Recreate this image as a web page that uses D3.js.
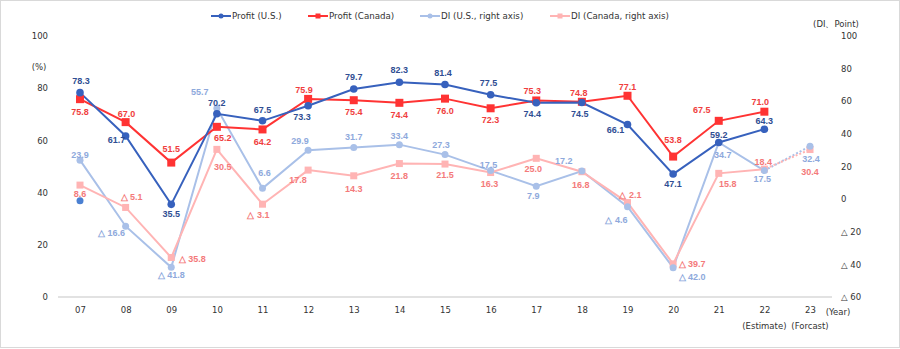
<!DOCTYPE html>
<html>
<head>
<meta charset="utf-8">
<script src="https://cdn.jsdelivr.net/npm/d3@7"></script>
<style>
  body { margin: 0; background: #fff; }
  text { font-family: "DejaVu Sans", Verdana, sans-serif; }
  .val { font-family: "Liberation Sans", Arial, sans-serif; font-weight: bold; font-size: 9px; }
</style>
</head>
<body>
<div id="chart"></div>
<script>
// years on the x axis, 22 = estimate, 23 = forecast
var years = ["07", "08", "09", "10", "11", "12", "13", "14", "15", "16", "17", "18", "19", "20", "21", "22", "23"];

// profit share (%), left axis
var profitUS = [78.3, 61.7, 35.5, 70.2, 67.5, 73.3, 79.7, 82.3, 81.4, 77.5, 74.4, 74.5, 66.1, 47.1, 59.2, 64.3];
var profitCA = [75.8, 67.0, 51.5, 65.2, 64.2, 75.9, 75.4, 74.4, 76.0, 72.3, 75.3, 74.8, 77.1, 53.8, 67.5, 71.0];

// DI points, right axis (last value is the 23 forecast)
var diUS = [23.9, -16.6, -41.8, 55.7, 6.6, 29.9, 31.7, 33.4, 27.3, 17.5, 7.9, 17.2, -4.6, -42.0, 34.7, 17.5, 32.4];
var diCA = [8.6, -5.1, -35.8, 30.5, -3.1, 17.8, 14.3, 21.8, 21.5, 16.3, 25.0, 16.8, -2.1, -39.7, 15.8, 18.4, 30.4];

// lone marker sitting at 07 on the right axis
var loneMarker = [{ year: "07", value: -1.0 }];

var leftTicks = [0, 20, 40, 60, 80, 100];
var rightTicks = [-60, -40, -20, 0, 20, 40, 60, 80, 100];
var legendNames = ["Profit (U.S.)", "Profit (Canada)", "DI (U.S., right axis)", "DI (Canada, right axis)"];

// label nudges [dx, dy] relative to each marker
var posUS = [[1,-12],[-9,4],[0,10],[0,-11],[0,-11],[-6,11],[0,-12],[0,-12],[-2,-12],[-2,-12],[-4,11],[-2,11],[-12,5],[0,10],[0,-8],[0,-8]];
var posCA = [[0,13],[1,-8],[0,-14],[6,11],[0,12],[-4,-9],[0,12],[0,12],[0,12],[0,12],[-4,-10],[-3,-9],[0,-9],[0,-17],[-17,-11],[-4,-10]];
var posDIUS = [[0,-5],[-14,7],[0,8],[-17,-16],[2,-16],[-8,-10],[0,-11],[0,-9],[-4,-10],[-2,-6],[-3,10],[-18,-10],[-11,13],[19,9],[4,12],[-2,8],[1,13]];
var posDICA = [[0,9],[6,-11],[21,1],[6,17],[-4,11],[-10,10],[0,13],[0,12],[0,11],[-1,11],[-3,11],[-1,13],[3,-8],[19,0],[9,10],[-1,-7],[0,22]];

var W = 900, H = 349;
var cUS = "#3761bd", cCA = "#ff3333", cDIUS = "#a9c0e8", cDICA = "#ffb4b4";
var tUS = "#2f4e93", tCA = "#f03e3e", tDIUS = "#8ea9dc", tDICA = "#f47a7a";

var svg = d3.select("#chart").append("svg")
    .attr("width", W)
    .attr("height", H);

svg.append("rect")
    .attr("x", 0.5).attr("y", 0.5)
    .attr("width", W - 1).attr("height", H - 2)
    .attr("fill", "#fff")
    .attr("stroke", "#d9d9d9");

var x = d3.scalePoint().domain(years).range([80, 810]);
var yL = d3.scaleLinear().domain([0, 100]).range([297, 36]);
var yR = d3.scaleLinear().domain([-60, 100]).range([297, 36]);

function fmt(v) {
    return v < 0 ? "\u25B3 " + Math.abs(v).toFixed(1) : v.toFixed(1);
}

// baseline
svg.append("line")
    .attr("x1", 58).attr("x2", 832)
    .attr("y1", yL(0)).attr("y2", yL(0))
    .attr("stroke", "#d9d9d9")
    .attr("stroke-width", 1.5);

// left axis
var axL = svg.append("g")
    .attr("transform", "translate(48,0)")
    .call(d3.axisLeft(yL).tickValues(leftTicks).tickSize(0).tickPadding(0));
axL.select(".domain").remove();
axL.selectAll("text").attr("font-size", "8.5px").attr("fill", "#333").attr("font-family", "DejaVu Sans");

// right axis
var axR = svg.append("g")
    .attr("transform", "translate(841,0)")
    .call(d3.axisRight(yR).tickValues(rightTicks).tickSize(0).tickPadding(0)
        .tickFormat(function (d) { return d < 0 ? "\u25B3 " + Math.abs(d) : d; }));
axR.select(".domain").remove();
axR.selectAll("text").attr("font-size", "8.5px").attr("fill", "#333").attr("font-family", "DejaVu Sans");

// x axis
var axX = svg.append("g")
    .attr("transform", "translate(0," + yL(0) + ")")
    .call(d3.axisBottom(x).tickSize(0).tickPadding(10));
axX.select(".domain").remove();
axX.selectAll("text").attr("font-size", "8.5px").attr("fill", "#333").attr("font-family", "DejaVu Sans");

svg.append("text").attr("x", 39).attr("y", 70).attr("text-anchor", "middle")
    .attr("font-size", "8.5px").attr("fill", "#333").text("(%)");
svg.append("text").attr("x", 836).attr("y", 27).attr("text-anchor", "middle")
    .attr("font-size", "8.5px").attr("fill", "#333").text("(DI\u3001Point)");
svg.append("text").attr("x", 838).attr("y", 315).attr("text-anchor", "middle")
    .attr("font-size", "8.5px").attr("fill", "#333").text("(Year)");
svg.append("text").attr("x", x("22")).attr("y", 329).attr("text-anchor", "middle")
    .attr("font-size", "8.5px").attr("fill", "#333").text("(Estimate)");
svg.append("text").attr("x", x("23")).attr("y", 329).attr("text-anchor", "middle")
    .attr("font-size", "8.5px").attr("fill", "#333").text("(Forcast)");

// series setup
function pts(vals, scale) {
    return vals.map(function (v, i) { return { year: years[i], value: v, px: x(years[i]), py: scale(v) }; });
}
var sUS = pts(profitUS, yL), sCA = pts(profitCA, yL);
var sDIUS = pts(diUS, yR), sDICA = pts(diCA, yR);

var line = d3.line().x(function (d) { return d.px; }).y(function (d) { return d.py; });

function drawLine(data, color, width, dash) {
    svg.append("path")
        .datum(data)
        .attr("d", line)
        .attr("fill", "none")
        .attr("stroke", color)
        .attr("stroke-width", width)
        .attr("stroke-dasharray", dash || null);
}

function drawCircles(data, color, r) {
    svg.append("g").selectAll("circle")
        .data(data).enter().append("circle")
        .attr("cx", function (d) { return d.px; })
        .attr("cy", function (d) { return d.py; })
        .attr("r", r)
        .attr("fill", color);
}

function drawSquares(data, color, s) {
    svg.append("g").selectAll("rect")
        .data(data).enter().append("rect")
        .attr("x", function (d) { return d.px - s / 2; })
        .attr("y", function (d) { return d.py - s / 2; })
        .attr("width", s).attr("height", s)
        .attr("fill", color);
}

function drawLabels(data, pos, color) {
    svg.append("g").selectAll("text")
        .data(data).enter().append("text")
        .attr("class", "val")
        .attr("x", function (d, i) { return d.px + pos[i][0]; })
        .attr("y", function (d, i) { return d.py + pos[i][1]; })
        .attr("dy", "0.35em")
        .attr("text-anchor", "middle")
        .attr("fill", color)
        .text(function (d) { return fmt(d.value); });
}

// DI lines: solid through 22, dotted to the 23 forecast
var n = sDIUS.length;
drawLine(sDIUS.slice(0, n - 1), cDIUS, 2);
drawLine(sDICA.slice(0, n - 1), cDICA, 2);
drawLine(sDIUS.slice(n - 2), cDIUS, 2, "2,2");
svg.append("path").datum(sDICA.slice(n - 2)).attr("d", line)
    .attr("fill", "none").attr("stroke", cDICA).attr("stroke-width", 2)
    .attr("stroke-dasharray", "2,2").attr("stroke-dashoffset", 2);

drawSquares(sDICA, cDICA, 7);
drawCircles(sDIUS, cDIUS, 3.5);

drawLine(sCA, cCA, 2);
drawLine(sUS, cUS, 2);
drawSquares(sCA, cCA, 8);
drawCircles(sUS, cUS, 3.8);

// lone marker
drawCircles(loneMarker.map(function (d) { return { px: x(d.year), py: yR(d.value) }; }), "#4a80d2", 3.5);

drawLabels(sDIUS, posDIUS, tDIUS);
drawLabels(sDICA, posDICA, tDICA);
drawLabels(sCA, posCA, tCA);
drawLabels(sUS, posUS, tUS);

// legend
var legendX = [211, 308, 420, 550];
var legendCol = [cUS, cCA, cDIUS, cDICA];
var lg = svg.append("g").selectAll("g")
    .data(legendNames).enter().append("g")
    .attr("transform", function (d, i) { return "translate(" + legendX[i] + ",16)"; });
lg.append("line")
    .attr("x1", 0).attr("x2", 20)
    .attr("stroke", function (d, i) { return legendCol[i]; })
    .attr("stroke-width", 2);
lg.each(function (d, i) {
    var g = d3.select(this);
    if (i % 2 === 0) {
        g.append("circle").attr("cx", 10).attr("r", 2.5).attr("fill", legendCol[i]);
    } else {
        g.append("rect").attr("x", 7.5).attr("y", -2.5).attr("width", 5).attr("height", 5).attr("fill", legendCol[i]);
    }
});
lg.append("text")
    .attr("x", 21).attr("dy", "0.35em")
    .attr("font-size", "8.7px").attr("fill", "#333")
    .text(function (d) { return d; });
</script>
</body>
</html>
